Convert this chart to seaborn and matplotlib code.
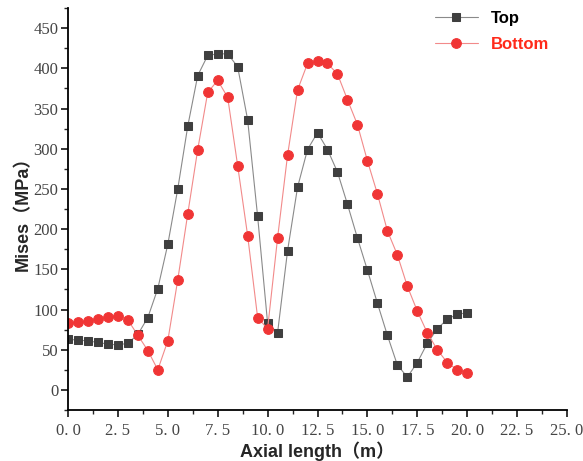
import numpy as np
import pandas as pd
import matplotlib
matplotlib.use("Agg")
import matplotlib.pyplot as plt
from matplotlib.ticker import MultipleLocator
import seaborn as sns

# data
axial_length = [0.0, 0.5, 1.0, 1.5, 2.0, 2.5, 3.0, 3.5, 4.0, 4.5,
                5.0, 5.5, 6.0, 6.5, 7.0, 7.5, 8.0, 8.5, 9.0, 9.5,
                10.0, 10.5, 11.0, 11.5, 12.0, 12.5, 13.0, 13.5, 14.0, 14.5,
                15.0, 15.5, 16.0, 16.5, 17.0, 17.5, 18.0, 18.5, 19.0, 19.5, 20.0]
top_mises = [63, 62, 61, 59, 57, 56, 58, 69, 90, 126,
             181, 250, 328, 391, 416, 418, 418, 402, 336, 216,
             83, 71, 173, 252, 299, 320, 299, 271, 231, 189,
             149, 108, 68, 31, 16, 34, 58, 76, 88, 94, 96]
bottom_mises = [83, 84, 86, 88, 91, 92, 87, 68, 49, 25,
                61, 137, 219, 299, 370, 385, 364, 279, 192, 90,
                76, 189, 292, 373, 406, 409, 406, 393, 361, 330,
                285, 244, 198, 168, 129, 98, 71, 50, 34, 25, 21]
series_names = ["Top", "Bottom"]
x_ticks = [0.0, 2.5, 5.0, 7.5, 10.0, 12.5, 15.0, 17.5, 20.0, 22.5, 25.0]
x_tick_labels = ["0. 0", "2. 5", "5. 0", "7. 5", "10. 0", "12. 5", "15. 0",
                 "17. 5", "20. 0", "22. 5", "25. 0"]
y_ticks = [0, 50, 100, 150, 200, 250, 300, 350, 400, 450]

df = pd.DataFrame({"x": axial_length, "Top": top_mises, "Bottom": bottom_mises})

sns.set_style("ticks")
plt.rcParams["font.family"] = ["Liberation Serif", "Noto Sans CJK SC"]

fig = plt.figure(figsize=(5.83, 4.61), dpi=100)
ax = fig.add_axes([0.1166, 0.1106, 0.856, 0.872])

grey = "#3f3f3f"
red = "#f03535"

sns.lineplot(data=df, x="x", y="Top", ax=ax, color="#8a8a8a", lw=0.8,
             marker="s", markersize=6, markerfacecolor=grey,
             markeredgecolor=grey, label=series_names[0])
sns.lineplot(data=df, x="x", y="Bottom", ax=ax, color="#f28a8a", lw=0.8,
             marker="o", markersize=7, markerfacecolor=red,
             markeredgecolor=red, label=series_names[1])

ax.set_xlim(0, 25)
ax.set_ylim(-25, 475)
ax.set_xticks(x_ticks)
ax.set_xticklabels(x_tick_labels)
ax.set_yticks(y_ticks)
ax.xaxis.set_minor_locator(MultipleLocator(1.25))
ax.yaxis.set_minor_locator(MultipleLocator(25))
ax.tick_params(axis="both", which="major", direction="out", length=5,
               width=1.1, labelsize=12, colors="black", pad=4)
ax.tick_params(axis="y", which="major", pad=2)
ax.tick_params(axis="both", which="minor", direction="out", length=3,
               width=1.0)
for lab in ax.get_xticklabels() + ax.get_yticklabels():
    lab.set_color("#444444")

sns.despine(ax=ax)
for side in ["left", "bottom"]:
    ax.spines[side].set_linewidth(1.3)
    ax.spines[side].set_color("black")

label_font = ["Liberation Sans", "Noto Sans CJK SC"]
ax.set_xlabel("Axial length（m）", fontsize=13, fontweight="bold",
              family=label_font, labelpad=2)
ax.set_ylabel("Mises（MPa）", fontsize=13, fontweight="bold",
              family=label_font, labelpad=1)

leg = ax.legend(loc="upper right", bbox_to_anchor=(0.995, 1.03), frameon=False,
                prop={"family": "Liberation Sans", "weight": "bold", "size": 12},
                handlelength=2.6, handletextpad=0.8, labelspacing=0.65)
leg.get_texts()[0].set_color("black")
leg.get_texts()[1].set_color("#ff2a1a")

fig.savefig("out.png", dpi=100)
